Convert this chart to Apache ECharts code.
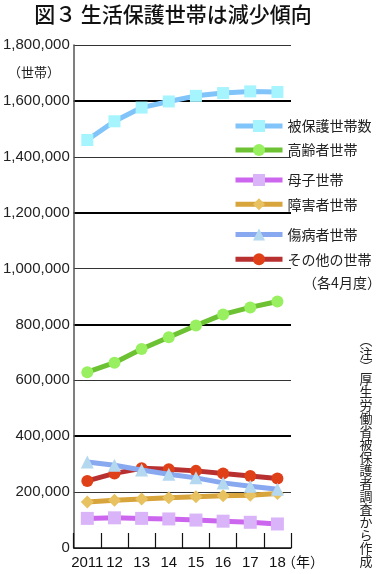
<!DOCTYPE html>
<html>
<head>
<meta charset="utf-8">
<script src="https://cdn.jsdelivr.net/npm/echarts@6/dist/echarts.min.js"></script>
<style>
html,body{margin:0;padding:0;background:#fff;}
#chart{width:377px;height:574px;}
</style>
</head>
<body>
<div id="chart"></div>
<script>
var years = ['2011','12','13','14','15','16','17','18'];
var hogoSetai   = [1460000,1527000,1576000,1598000,1618000,1628000,1634000,1632000];
var koreisha    = [629000,663000,712000,754000,796000,836000,861000,882000];
var boshi       = [106000,108000,106000,104000,100000,96000,92000,86000];
var shogaisha   = [165000,171000,175000,180000,183000,187000,189000,195000];
var shobyosha   = [308000,296000,279000,264000,251000,233000,221000,210000];
var sonota      = [240000,267000,285000,282000,276000,267000,258000,249000];
var yTicks = [0,200000,400000,600000,800000,1000000,1200000,1400000,1600000,1800000];

var names = ['被保護世帯数','高齢者世帯','母子世帯','障害者世帯','傷病者世帯','その他の世帯'];
var font = "'Liberation Sans', Arial, sans-serif";
var jfont = "'Noto Sans CJK JP', sans-serif";

function mk(name, data, lineColor, markColor, symbol, size, z) {
  return {
    name: name, type: 'line', data: data, symbol: symbol, symbolSize: size,
    z: z,
    lineStyle: {color: lineColor, width: 5},
    itemStyle: {color: markColor, borderWidth: 0},
    emphasis: {disabled: true},
    animation: false
  };
}

var chart = echarts.init(document.getElementById('chart'));
var legendCommon = {
  orient: 'vertical', left: 233, itemWidth: 47, itemHeight: 15,
  textStyle: {fontFamily: jfont, fontSize: 14, color: '#222'},
  lineStyle: {width: 5},
  selectedMode: false, padding: 0, itemGap: 10
};
chart.setOption({
  backgroundColor: '#fff',
  animation: false,
  grid: {left: 73, right: 86, top: 45, bottom: 26, containLabel: false},
  legend: [
    Object.assign({}, legendCommon, {top: 119, itemGap: 10, data: [names[0], names[1]]}),
    Object.assign({}, legendCommon, {top: 173, itemGap: 10.3, data: [names[2], names[3]]}),
    Object.assign({}, legendCommon, {top: 227.5, itemGap: 10.7, data: [names[4], names[5]]})
  ],
  xAxis: {
    type: 'category', data: years, boundaryGap: true,
    axisLine: {lineStyle: {color: '#111', width: 1.5}},
    axisTick: {show: true, inside: true, length: 15, lineStyle: {color: '#111', width: 1.2}},
    axisLabel: {fontFamily: font, fontSize: 15, color: '#111', margin: 7, interval: 0},
    splitLine: {show: false}
  },
  yAxis: [{
    type: 'value', min: yTicks[0], max: yTicks[yTicks.length-1], interval: yTicks[1]-yTicks[0],
    axisLine: {show: true, lineStyle: {color: '#555', width: 1.5}},
    axisTick: {show: false},
    axisLabel: {fontFamily: font, fontSize: 15, color: '#222', margin: 4,
      formatter: function (v) { return v.toLocaleString('en-US'); }},
    splitLine: {show: true, lineStyle: {color: '#333', width: 1}}
  }, {
    type: 'value', min: yTicks[0], max: yTicks[yTicks.length-1], interval: 400000,
    position: 'left',
    axisLine: {show: false}, axisTick: {show: false}, axisLabel: {show: false},
    splitLine: {show: true, lineStyle: {color: ['transparent','#000','#000','#000','#000','transparent'], width: 2}}
  }],
  series: [
    mk(names[0], hogoSetai, '#80c4fa', '#a6f4fe', 'rect', 12, 2),
    mk(names[1], koreisha, '#6cc232', '#98f060', 'circle', 12, 2),
    mk(names[2], boshi, '#cc66ee', '#dab4f8', 'rect', 13, 2),
    mk(names[3], shogaisha, '#d8a43c', '#e8c260', 'diamond', 13, 2),
    mk(names[5], sonota, '#b83030', '#e04018', 'circle', 12, 2),
    mk(names[4], shobyosha, '#88a8f0', '#b4d8f0', 'triangle', 13, 3)
  ],
  graphic: [
    {type: 'text', style: {text: '図３ 生活保護世帯は減少傾向', x: 173, y: 14, align: 'center', verticalAlign: 'middle',
      font: "500 21px 'Noto Sans CJK JP', sans-serif", fill: '#111'}},
    {type: 'text', style: {text: '（世帯）', x: 34, y: 72, align: 'center', verticalAlign: 'middle',
      font: "13px 'Noto Sans CJK JP', sans-serif", fill: '#222'}},
    {type: 'text', style: {text: '（各4月度）', x: 342, y: 283, align: 'center', verticalAlign: 'middle',
      font: "14px 'Noto Sans CJK JP', sans-serif", fill: '#222'}},
    {type: 'text', style: {text: '（年）', x: 303, y: 562, align: 'center', verticalAlign: 'middle',
      font: "14px 'Noto Sans CJK JP', sans-serif", fill: '#111'}},
    {type: 'text', style: {text: '︵注︶厚生労働省被保護者調査から作成'.split('').join('\n'),
      x: 366, y: 334, align: 'center', verticalAlign: 'top', lineHeight: 13,
      font: "13px 'Noto Sans CJK JP', sans-serif", fill: '#222'}}
  ]
});
</script>
</body>
</html>
